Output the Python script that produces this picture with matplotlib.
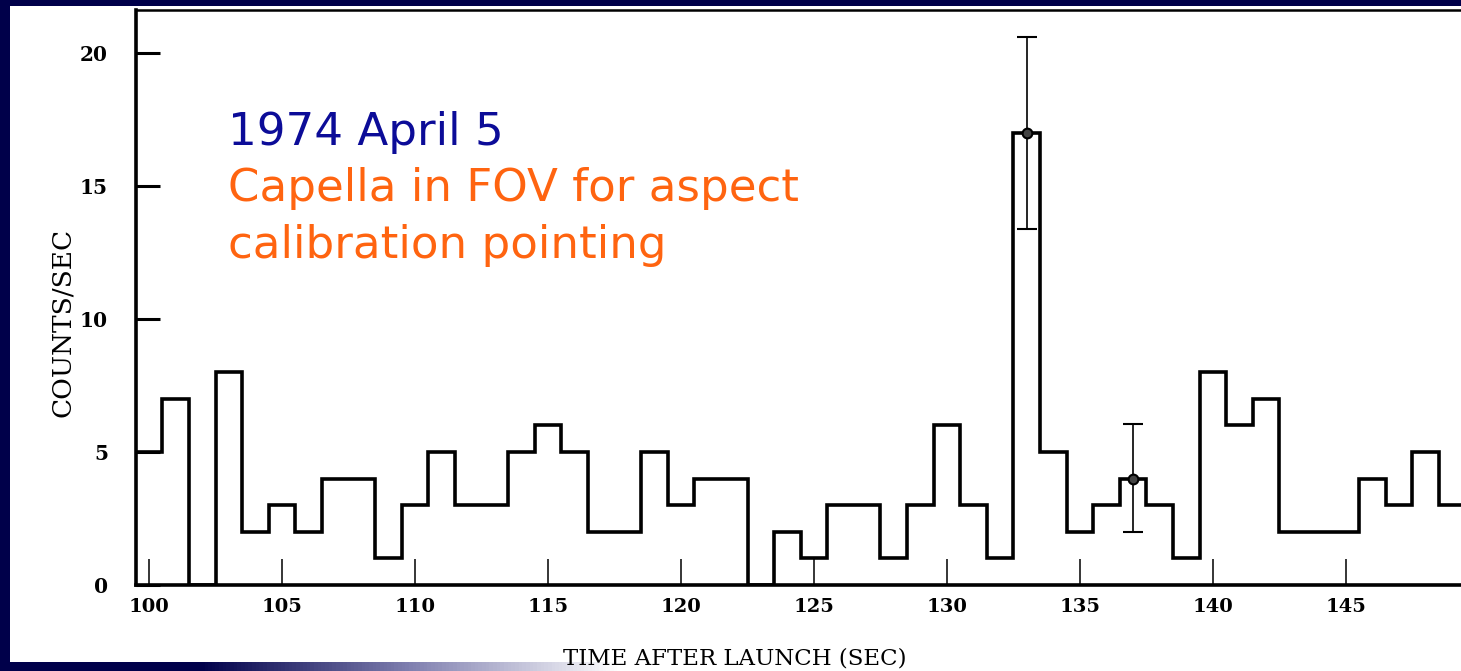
import numpy as np
import matplotlib
matplotlib.use("Agg")
import matplotlib.pyplot as plt
from matplotlib.colors import LinearSegmentedColormap

# One-second bins of the count rate, bin centres 100 ... 149 s
bin_centers = np.arange(100, 150)
counts_per_sec = [5, 7, 0, 8, 2, 3, 2, 4, 4, 1,
                  3, 5, 3, 3, 5, 6, 5, 2, 2, 5,
                  3, 4, 4, 0, 2, 1, 3, 3, 1, 3,
                  6, 3, 1, 17, 5, 2, 3, 4, 3, 1,
                  8, 6, 7, 2, 2, 2, 4, 3, 5, 3]

# Representative error bars
err_times = [133, 137]
err_values = [17, 4]
err_lower = [13.4, 2.0]
err_upper = [20.6, 6.05]

x_ticks = [100, 105, 110, 115, 120, 125, 130, 135, 140, 145]
y_ticks = [0, 5, 10, 15, 20]

NAVY = "#00004a"
W, H = 1461, 671

fig = plt.figure(figsize=(W / 100, H / 100), dpi=100, facecolor="white")

# dark frame: top band, left band, shaded bottom band
frame = fig.add_axes([0, 0, 1, 1], zorder=-10)
frame.set_xlim(0, W)
frame.set_ylim(H, 0)
frame.axis("off")
frame.add_patch(plt.Rectangle((0, 0), W, 6, color=NAVY, lw=0))
frame.add_patch(plt.Rectangle((0, 0), 10, H, color=NAVY, lw=0))
grad = np.clip((np.linspace(0, W, 400) - 200) / 420, 0, 1)[None, :]
cmap = LinearSegmentedColormap.from_list("fade", [NAVY, "#8080b0", "white"])
frame.imshow(grad, extent=(0, W, H, 662), aspect="auto", cmap=cmap,
             vmin=0, vmax=1, zorder=1)

ax = fig.add_axes([135.7 / W, (H - 585) / H, 1 - 135.7 / W, (585 - 10) / H])
ax.set_facecolor("none")

edges = np.append(bin_centers - 0.5, bin_centers[-1] + 0.5)
ax.stairs(counts_per_sec, edges, baseline=None, color="black", lw=2.6)

yerr = [np.array(err_values) - np.array(err_lower),
        np.array(err_upper) - np.array(err_values)]
ax.errorbar(err_times, err_values, yerr=yerr, fmt="o", ms=7,
            mfc="#444444", mec="black", mew=1.5, ecolor="black",
            elinewidth=1.2, capsize=7.5, capthick=2.2, zorder=5)

ax.set_xlim(99.5, 99.5 + (W - 135.7) / 26.6)
ax.set_ylim(0, 575 / 26.6)

for side in ["left", "bottom"]:
    ax.spines[side].set_linewidth(2.6)
ax.spines["top"].set_linewidth(1.8)
ax.spines["right"].set_visible(False)

ax.set_xticks(x_ticks)
ax.set_yticks(y_ticks)
ax.tick_params(axis="x", direction="in", length=19, width=1.1, pad=9,
               labelsize=14)
ax.tick_params(axis="y", direction="in", length=17, width=2.2, pad=20,
               labelsize=14.5)
for lab in ax.get_xticklabels() + ax.get_yticklabels():
    lab.set_fontfamily("DejaVu Serif")
    lab.set_fontweight("bold")

fig.text(62 / W, 1 - 322 / H, "COUNTS/SEC", rotation=90, ha="center",
         va="center", fontsize=19, family="DejaVu Serif")
fig.text(735 / W, 1 - 659 / H, "TIME AFTER LAUNCH (SEC)", ha="center",
         va="center", fontsize=16.5, family="DejaVu Serif")

fig.text(228 / W, 1 - 145 / H, "1974 April 5", ha="left", va="baseline",
         fontsize=32.5, color="#0c0c98", family="DejaVu Sans")
fig.text(228 / W, 1 - 201 / H, "Capella in FOV for aspect", ha="left",
         va="baseline", fontsize=32.5, color="#ff6410", family="DejaVu Sans")
fig.text(228 / W, 1 - 258 / H, "calibration pointing", ha="left",
         va="baseline", fontsize=32.5, color="#ff6410", family="DejaVu Sans")

fig.savefig("out.png", dpi=100, facecolor="white")
